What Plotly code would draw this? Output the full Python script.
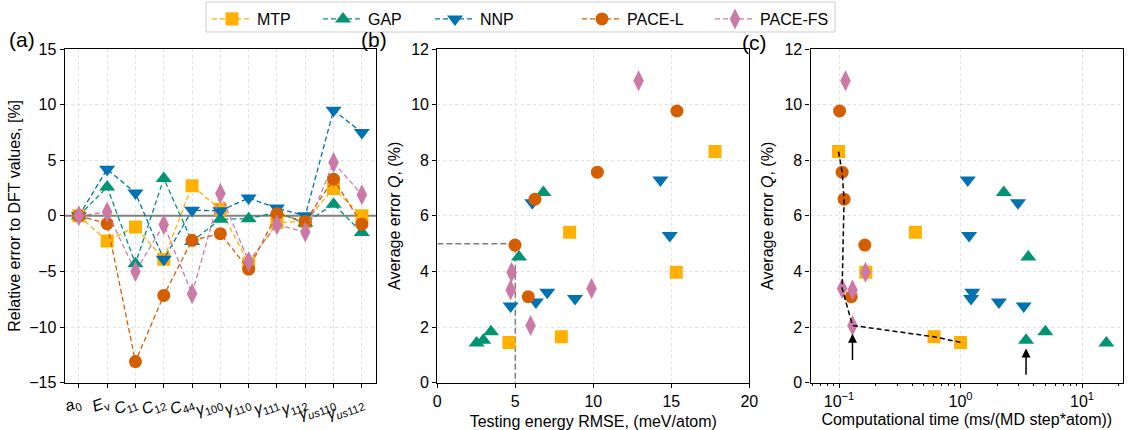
import math
import plotly.graph_objects as go

# ---------------- data ----------------
models = ["MTP", "GAP", "NNP", "PACE-L", "PACE-FS"]
colors = {"MTP": "#FFB000", "GAP": "#009474", "NNP": "#0072B2",
          "PACE-L": "#D55E00", "PACE-FS": "#CC79A7"}
symbols = {"MTP": "square", "GAP": "triangle-up", "NNP": "triangle-down",
           "PACE-L": "circle", "PACE-FS": "diamond-tall"}
sizes = {"MTP": 13, "GAP": 14, "NNP": 14, "PACE-L": 13, "PACE-FS": 15}

# (a) relative error of properties vs DFT, %
properties = ["<i>a</i><sub>0</sub>", "<i>E</i><sub>v</sub>", "<i>C</i><sub>11</sub>",
              "<i>C</i><sub>12</sub>", "<i>C</i><sub>44</sub>", "<i>γ</i><sub>100</sub>",
              "<i>γ</i><sub>110</sub>", "<i>γ</i><sub>111</sub>", "<i>γ</i><sub>112</sub>",
              "<i>γ</i><sub><i>us</i>110</sub>", "<i>γ</i><sub><i>us</i>112</sub>"]
rel_err_mtp = [0.0, -2.25, -1.0, -3.9, 2.7, 0.6, -4.3, -0.6, -0.5, 2.45, 0.0]
rel_err_gap = [0.0, 2.6, -4.3, 3.35, -2.3, -0.3, -0.25, 0.3, -0.65, 1.05, -1.5]
rel_err_nnp = [0.0, 4.2, 2.05, -3.9, 0.5, 0.45, 1.6, 0.7, 0.0, 9.5, 7.5]
rel_err_pacel = [0.0, -0.7, -13.1, -7.15, -2.2, -1.6, -4.8, 0.2, -0.5, 3.3, -0.75]
rel_err_pacefs = [0.0, 0.35, -5.0, -0.8, -7.0, 2.0, -4.1, -0.8, -1.45, 4.8, 1.9]

# (b), (c) average error Q (%), testing energy RMSE (meV/atom), cost (ms/(MD step*atom))
q_mtp = [1.45, 1.65, 5.41, 3.97, 8.31]
rmse_mtp = [4.59, 7.95, 8.48, 15.32, 17.8]
time_mtp = [1.0, 0.605, 0.425, 0.166, 0.099]

q_gap = [1.43, 1.53, 1.83, 4.52, 6.84]
rmse_gap = [2.52, 2.95, 3.44, 5.24, 6.8]
time_gap = [15.85, 3.46, 4.99, 3.61, 2.27]

q_nnp = [2.76, 2.9, 3.03, 3.25, 6.47, 7.29, 5.29]
rmse_nnp = [4.7, 6.32, 8.83, 7.05, 6.09, 14.3, 14.9]
time_nnp = [3.31, 2.07, 1.22, 1.25, 2.97, 1.146, 1.175]

q_pacel = [4.95, 3.09, 6.6, 7.57, 9.77]
rmse_pacel = [4.98, 5.83, 6.26, 10.26, 15.36]
time_pacel = [0.163, 0.126, 0.110, 0.106, 0.101]

q_pacefs = [3.97, 3.33, 2.06, 3.39, 10.86]
rmse_pacefs = [4.76, 4.7, 5.98, 9.89, 12.9]
time_pacefs = [0.165, 0.129, 0.129, 0.106, 0.113]

rel_err = {"MTP": rel_err_mtp, "GAP": rel_err_gap, "NNP": rel_err_nnp,
           "PACE-L": rel_err_pacel, "PACE-FS": rel_err_pacefs}
q_val = {"MTP": q_mtp, "GAP": q_gap, "NNP": q_nnp, "PACE-L": q_pacel, "PACE-FS": q_pacefs}
rmse = {"MTP": rmse_mtp, "GAP": rmse_gap, "NNP": rmse_nnp, "PACE-L": rmse_pacel,
        "PACE-FS": rmse_pacefs}
cost = {"MTP": time_mtp, "GAP": time_gap, "NNP": time_nnp, "PACE-L": time_pacel,
        "PACE-FS": time_pacefs}

# Pareto front in (c): (model, index) pairs
pareto = [("MTP", 4), ("PACE-L", 3), ("PACE-L", 2), ("PACE-FS", 3),
          ("PACE-FS", 2), ("MTP", 1), ("MTP", 0)]
# highlighted potentials (arrows)
highlighted = [("PACE-FS", 2), ("GAP", 1)]

# thresholds in (b)
rmse_cut = 5.0
q_cut = 5.0

# ---------------- figure ----------------
W, H = 1129, 430
FONT = "Liberation Sans, Arial, Helvetica, sans-serif"
FS = 16
fig = go.Figure()

# zero reference line in (a)
fig.add_trace(go.Scatter(x=[-0.5, 10.5], y=[0, 0], mode="lines",
                         line=dict(color="#808080", width=2),
                         showlegend=False, hoverinfo="skip", xaxis="x", yaxis="y"))

# one legend per model so every entry sits at its own spot inside a shared frame
legend_x = {"MTP": 207, "GAP": 318, "NNP": 430, "PACE-L": 577, "PACE-FS": 710}
for k, m in enumerate(models):
    lg = "legend" if k == 0 else f"legend{k + 1}"
    fig.add_trace(go.Scatter(
        x=list(range(len(properties))), y=rel_err[m], mode="lines+markers", name=m,
        line=dict(color=colors[m], width=1.3, dash="5px,3px"),
        marker=dict(symbol=symbols[m], size=sizes[m], color=colors[m], line=dict(width=0)),
        xaxis="x", yaxis="y", showlegend=True, legend=lg))

# threshold guide lines in (b)
fig.add_trace(go.Scatter(x=[0, rmse_cut, rmse_cut], y=[q_cut, q_cut, 0], mode="lines",
                         line=dict(color="#7f7f7f", width=1.5, dash="6px,3px"),
                         showlegend=False, hoverinfo="skip", xaxis="x2", yaxis="y2"))

for m in models:
    fig.add_trace(go.Scatter(
        x=rmse[m], y=q_val[m], mode="markers", name=m,
        marker=dict(symbol=symbols[m], size=sizes[m], color=colors[m], line=dict(width=0)),
        xaxis="x2", yaxis="y2", showlegend=False))

for m in models:
    fig.add_trace(go.Scatter(
        x=cost[m], y=q_val[m], mode="markers", name=m,
        marker=dict(symbol=symbols[m], size=sizes[m], color=colors[m], line=dict(width=0)),
        xaxis="x3", yaxis="y3", showlegend=False))

fig.add_trace(go.Scatter(
    x=[cost[m][i] for m, i in pareto], y=[q_val[m][i] for m, i in pareto], mode="lines",
    line=dict(color="black", width=1.5, dash="5px,3px"),
    showlegend=False, hoverinfo="skip", xaxis="x3", yaxis="y3"))

for m, i in highlighted:
    xt = math.log10(cost[m][i])
    tip = q_val[m][i] - 0.3
    fig.add_annotation(x=xt, y=tip, ax=xt, ay=tip - 1.0, xref="x3", yref="y3",
                       axref="x3", ayref="y3", showarrow=True, arrowhead=2,
                       arrowsize=1.2, arrowwidth=1.5, arrowcolor="black", text="")

# ---------------- axes ----------------
top = 1 - 49 / H
bot = 1 - 382.7 / H
grid = dict(showgrid=True, gridcolor="#e2e2e2", griddash="dot", gridwidth=1)
common = dict(showline=True, linecolor="black", linewidth=1.2, mirror=True,
              ticks="outside", ticklen=4, tickwidth=1, tickcolor="black",
              tickfont=dict(size=FS, color="black", family=FONT),
              zeroline=False, automargin=False, **grid)
tfont = dict(size=FS, family=FONT, color="black")

# log minor ticks: 2..9 times each decade
log_minor = [k * 10 ** e for e in (-2, -1, 0, 1) for k in range(2, 10)]

legends = {}
for k, m in enumerate(models):
    key = "legend" if k == 0 else f"legend{k + 1}"
    legends[key] = dict(orientation="h", x=legend_x[m] / W, xanchor="left",
                        y=1 - 2 / H, yanchor="top", bgcolor="rgba(0,0,0,0)",
                        borderwidth=0, font=dict(size=FS, family=FONT, color="black"),
                        itemwidth=40)

fig.update_layout(
    width=W, height=H, margin=dict(l=0, r=0, t=0, b=0, autoexpand=False),
    paper_bgcolor="white", plot_bgcolor="white",
    font=dict(family=FONT, size=FS, color="black"),
    xaxis=dict(domain=[64.7 / W, 376 / W], range=[-0.5, 10.5],
               tickmode="array", tickvals=list(range(len(properties))), ticktext=properties,
               tickangle=-20, anchor="y", **common),
    yaxis=dict(domain=[bot, top], range=[-15, 15], dtick=5, anchor="x",
               title=dict(text="Relative error to DFT values, [%]", standoff=4, font=tfont),
               **common),
    xaxis2=dict(domain=[437.3 / W, 749.3 / W], range=[0, 20], dtick=5, anchor="y2",
                title=dict(text="Testing energy RMSE, (meV/atom)", standoff=6, font=tfont),
                **common),
    yaxis2=dict(domain=[bot, top], range=[0, 12], dtick=2, anchor="x2",
                title=dict(text="Average error <i>Q</i>, (%)", standoff=6, font=tfont),
                **common),
    xaxis3=dict(domain=[810.5 / W, 1123 / W], type="log", range=[-1.235, 1.337],
                tickmode="array", tickvals=[0.1, 1, 10],
                ticktext=["10<sup>−1</sup>", "10<sup>0</sup>", "10<sup>1</sup>"],
                minor=dict(ticks="outside", ticklen=2.5, tickwidth=0.8, tickcolor="black",
                           showgrid=False, tickmode="array", tickvals=log_minor),
                anchor="y3",
                title=dict(text="Computational time (ms/(MD step*atom))", standoff=4,
                           font=tfont), **common),
    yaxis3=dict(domain=[bot, top], range=[0, 12], dtick=2, anchor="x3",
                title=dict(text="Average error <i>Q</i>, (%)", standoff=6, font=tfont),
                **common),
    **legends,
)

# legend frame
fig.add_shape(type="rect", xref="paper", yref="paper", x0=206 / W, x1=835 / W,
              y0=1 - 32 / H, y1=1 - 2 / H, line=dict(color="#cccccc", width=1),
              fillcolor="rgba(255,255,255,0)", layer="below")

for label, xp, yp in [("(a)", 22, 39), ("(b)", 374, 39), ("(c)", 754, 43)]:
    fig.add_annotation(text=label, x=xp / W, y=1 - yp / H, xref="paper", yref="paper",
                       showarrow=False, font=dict(size=21, family=FONT, color="black"),
                       xanchor="center", yanchor="middle")

fig.write_html("out.html")
